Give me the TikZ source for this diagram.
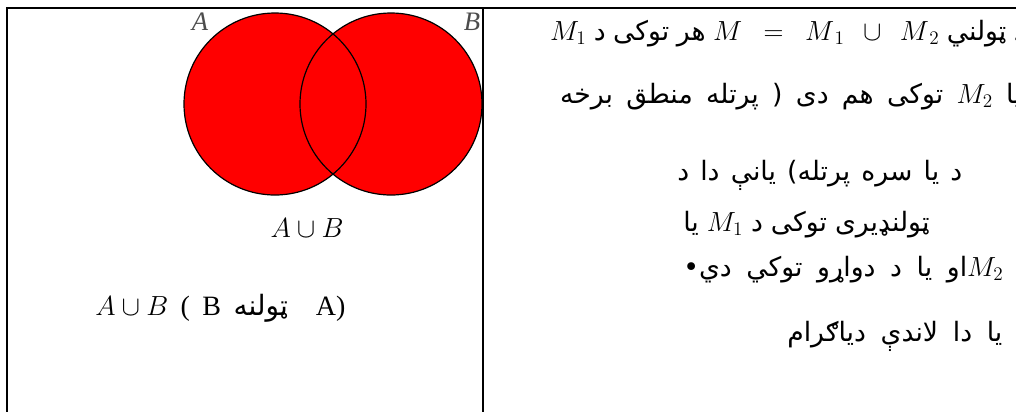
\documentclass[tikz,border=0pt]{standalone}
\usepackage{fontspec}
\setmainfont{Liberation Serif}
\newfontfamily\pashtofont[Script=Arabic]{DejaVu Sans}
\TeXXeTstate=1
\usetikzlibrary{positioning}
\newcommand\pashtotext{\pashtofont\spaceskip=0.42em\relax}
\newcommand\gap[1]{\spaceskip=#1em\relax}
\newcommand\mth[1]{\beginL{\fontsize{20}{24}\selectfont\thickmuskip=14mu\medmuskip=12mu$#1$}\endL}
\tikzset{
  frame/.style={line width=1.5pt, black},
  disk/.style={fill=red},
  rim/.style={draw=black, line width=0.9pt},
  setname/.style={font=\fontsize{20}{24}\selectfont\itshape, text=black!70, inner sep=0pt},
  ptext/.style={font=\fontsize{20}{24}\selectfont\pashtotext, inner sep=0pt},
  formula/.style={font=\fontsize{21}{25}\selectfont, inner sep=0pt}
}
\begin{document}
\begin{tikzpicture}[x=0.75pt,y=-0.75pt]
  \useasboundingbox (0,0) rectangle (1016,412);
  \clip (0,0) rectangle (1016,412);
  % frame of the two cells
  \coordinate (tl) at (7,8);
  \coordinate (tr) at (1016,8);
  \coordinate (bl) at (7,412);
  \coordinate (mt) at (483,8);
  \coordinate (mb) at (483,412);
  % the two sets
  \coordinate (cA) at (275,104);
  \coordinate (cB) at (391,104);
  \fill[disk] (cA) circle[radius=91];
  \fill[disk] (cB) circle[radius=91];
  \draw[rim] (cA) circle[radius=91] (cB) circle[radius=91];
  \node[setname] (lblA) at (200,22) {A};
  \node[setname] (lblB) at (472,22) {B};
  \node[formula, anchor=base] (union) at (307,237) {$A\cup B$};
  \node[formula, anchor=base west] (reading) at (95,315) {$A\cup B$\;\,(\;\,B\;\,{\pashtofont ټولنه}\quad A)};
  % text of the right cell
  \node[ptext, anchor=base east] (line1) at (1026,40) {\gap{0.28}\beginR د ټولني \mth{M = M_{\,1} \cup M_{\,2}} هر توکی د \mth{M_1}\endR};
  \node[ptext, anchor=base east] (line2) at (1022,103) {\gap{0.5}\beginR یا \mth{M_2} توکی هم دی ( پرتله منطق برخه\endR};
  \node[ptext, anchor=base west] (line3) at (677,180) {\beginR د یا سره پرتله\kern0pt) یانې دا د\endR};
  \node[ptext, anchor=base west] (line4) at (683,231) {\gap{0.3}\beginR ټولنډیری توکی د \mth{M_1} یا\endR};
  \node[ptext, anchor=base west] (line5) at (683,276) {\gap{0.55}\beginR \mth{M_2}او یا د دواړو توکي دي\kern0pt•\endR};
  \node[ptext, anchor=base west] (line6) at (787,341) {\gap{0.55}\beginR یا دا لاندې دیاګرام\endR};
  \draw[frame] (tr) -- (tl) -- (bl);
  \draw[frame] (mt) -- (mb);
\end{tikzpicture}
\end{document}
